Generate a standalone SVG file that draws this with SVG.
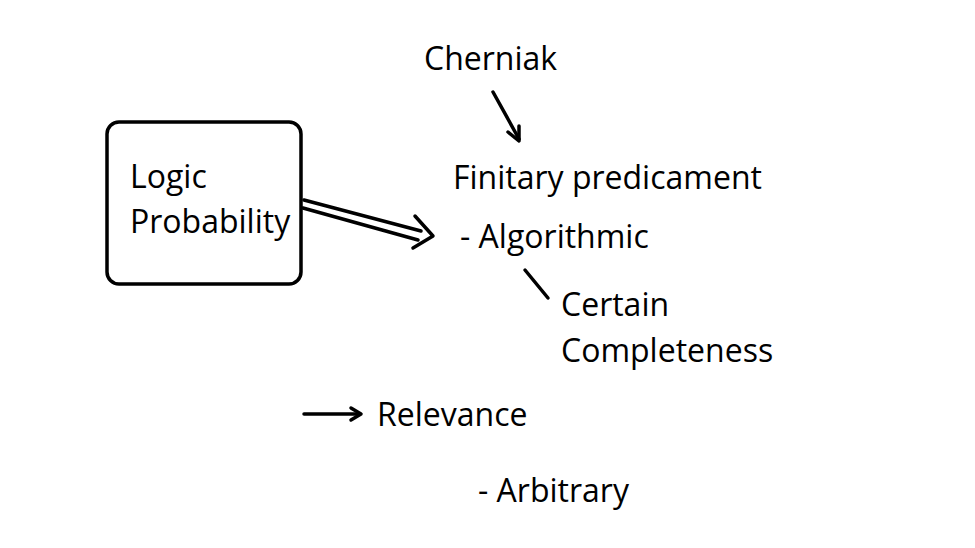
<svg xmlns="http://www.w3.org/2000/svg" width="975" height="548" viewBox="0 0 975 548">
<style>
text{font-family:"Open Sans","Liberation Sans",sans-serif;font-size:32px;fill:#000}
.l{stroke:#000;stroke-width:3.5;fill:none;stroke-linecap:round;stroke-linejoin:round}
</style>
<rect width="975" height="548" fill="#fff"/>
<g id="box"><rect x="107" y="122" width="194" height="162" rx="12" class="l" stroke-width="3"/><text x="130" y="188">Logic</text><text x="130" y="233">Probability</text></g>
<g id="cherniak"><text x="424" y="70">Cherniak</text></g>
<g id="finitary"><text x="453" y="189">Finitary predicament</text></g>
<g id="algorithmic"><text x="460" y="248">- Algorithmic</text></g>
<g id="certain"><text x="561" y="316">Certain</text><text x="561" y="362">Completeness</text></g>
<g id="relevance"><text x="377" y="426">Relevance</text></g>
<g id="arbitrary"><text x="478" y="502">- Arbitrary</text></g>
<g id="connectors">
<path class="l" d="M493,92 L519,139"/><path class="l" d="M508,132 L519,141 L519,126"/>
<path class="l" d="M304,200 L421,231 M303,208 L418,240"/>
<path class="l" d="M415,216 L433,236 L413,248"/>
<path class="l" d="M525,270 L548,298"/>
<path class="l" d="M304,414 L358,414"/><path class="l" d="M351,408 L361,414 L351,420"/>
</g>
</svg>
